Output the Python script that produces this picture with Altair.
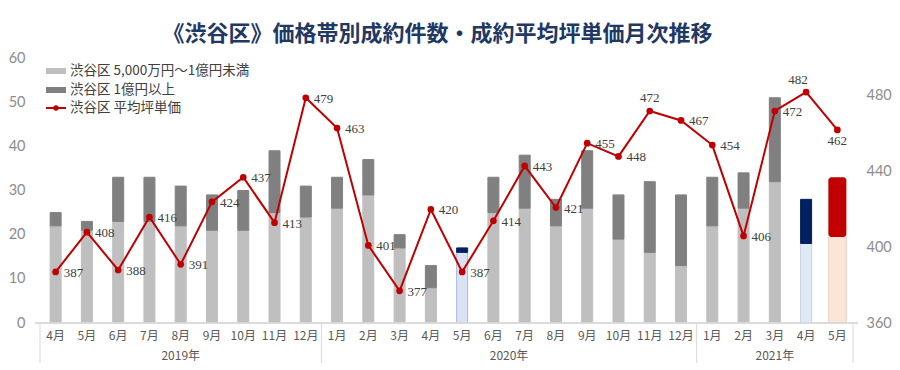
import altair as alt
import pandas as pd

# ---------------- data ----------------
month_labels = ["4月", "5月", "6月", "7月", "8月", "9月", "10月", "11月", "12月",
                "1月", "2月", "3月", "4月", "5月", "6月", "7月", "8月", "9月", "10月", "11月", "12月",
                "1月", "2月", "3月", "4月", "5月"]
year_of_month = [2019] * 9 + [2020] * 12 + [2021] * 5
year_labels = ["2019年", "2020年", "2021年"]
count_mid = [22, 21, 23, 23, 22, 21, 21, 25, 24,
             26, 29, 17, 8, 16, 25, 26, 22, 26, 19, 16, 13,
             22, 26, 32, 18, 19.5]
count_high = [3, 2, 10, 10, 9, 8, 9, 14, 7,
              7, 8, 3, 5, 1, 8, 12, 6, 13, 10, 16, 16,
              11, 8, 19, 10, 13.5]
avg_price = [387, 408, 388, 416, 391, 424, 437, 413, 479,
             463, 401, 377, 420, 387, 414, 443, 421, 455, 448, 472, 467,
             454, 406, 472, 482, 462]
series_names = ["渋谷区 5,000万円～1億円未満", "渋谷区 1億円以上", "渋谷区 平均坪単価"]

# ---------------- styles ----------------
W, H = 823, 265
C_MID, C_HIGH, C_RED = "#BFBFBF", "#808080", "#C00000"
TXT = "#404040"
AX = "#8C8C8C"
JP = "Noto Sans CJK JP"
# highlighted bars: index -> (bottom fill, top fill, bottom stroke, width)
special = {13: ("#DAE3F3", "#002060", "#A9B9D6", 11),
           24: ("#DEEBF7", "#002060", "#C9D6E8", 11),
           25: ("#FBE5D6", "#C00000", "#E8D3C6", 18)}
label_pos = {19: "above", 24: "above_left", 25: "below"}

n = len(month_labels)
rows = []
for i in range(n):
    lo, hi = count_mid[i], count_mid[i] + count_high[i]
    fb, ft, sb, w = special.get(i, (C_MID, C_HIGH, C_MID, 11))
    rows.append(dict(idx=i, y0=0, y1=lo, fill=fb, stroke=sb, w=w, seg="mid", rnd=False))
    rows.append(dict(idx=i, y0=lo, y1=hi, fill=ft, stroke=ft, w=w, seg="high", rnd=(i == 25)))
bars_df = pd.DataFrame(rows)

price_df = pd.DataFrame({"idx": list(range(n)), "price": avg_price,
                         "pos": [label_pos.get(i, "right") for i in range(n)]})
month_df = pd.DataFrame({"idx": list(range(n)), "m": month_labels})
yc = []
for y in sorted(set(year_of_month)):
    ids = [i for i, v in enumerate(year_of_month) if v == y]
    yc.append(dict(idx=(ids[0] + ids[-1]) / 2, label=f"{y}年"))
year_df = pd.DataFrame(yc)
bounds = [-0.5] + [i + 0.5 for i in range(n - 1) if year_of_month[i] != year_of_month[i + 1]] + [n - 0.5]
bound_df = pd.DataFrame({"idx": bounds})

xs = alt.Scale(domain=[-0.5, n - 0.5], nice=False, zero=False)
X = alt.X("idx:Q", scale=xs, axis=None)
ys_left = alt.Scale(domain=[0, 60], nice=False, zero=True)
ys_right = alt.Scale(domain=[360, 500], nice=False, zero=False)

# ---------------- bars ----------------
bar_base = alt.Chart(bars_df)
bars = bar_base.transform_filter("!datum.rnd").mark_bar(strokeWidth=1).encode(
    x=X,
    y=alt.Y("y0:Q", scale=ys_left,
            axis=alt.Axis(values=list(range(0, 61, 10)), title=None, grid=False, domain=False,
                          ticks=False, labelPadding=10, labelFont="Lato", labelFontSize=14.5,
                          labelColor=AX)),
    y2="y1:Q",
    size=alt.Size("w:Q", scale=None),
    color=alt.Color("fill:N", scale=None),
    stroke=alt.Stroke("stroke:N", scale=None),
)
bars_round = bar_base.transform_filter("datum.rnd").mark_bar(cornerRadius=3).encode(
    x=X, y=alt.Y("y0:Q", scale=ys_left), y2="y1:Q",
    size=alt.Size("w:Q", scale=None),
    color=alt.Color("fill:N", scale=None),
)
left = alt.layer(bars, bars_round)

# ---------------- price line ----------------
pb = alt.Chart(price_df)
line = pb.mark_line(color=C_RED, strokeWidth=2).encode(
    x=X,
    y=alt.Y("price:Q", scale=ys_right,
            axis=alt.Axis(orient="right", values=list(range(360, 501, 20)), title=None, grid=False,
                          domain=False, ticks=False, labelPadding=8, labelFont="Lato",
                          labelFontSize=14.5, labelColor=AX)),
)
pts = pb.mark_point(filled=True, color=C_RED, size=45, opacity=1).encode(
    x=X, y=alt.Y("price:Q", scale=ys_right))
lab_kw = dict(font="Liberation Serif", fontSize=13, color=TXT)
lab_r = pb.transform_filter("datum.pos == 'right'").mark_text(
    align="left", baseline="middle", dx=8, dy=1, **lab_kw).encode(
    x=X, y=alt.Y("price:Q", scale=ys_right), text="price:Q")
lab_a = pb.transform_filter("datum.pos == 'above'").mark_text(
    align="center", baseline="bottom", dy=-6, **lab_kw).encode(
    x=X, y=alt.Y("price:Q", scale=ys_right), text="price:Q")
lab_al = pb.transform_filter("datum.pos == 'above_left'").mark_text(
    align="center", baseline="bottom", dx=-8, dy=-5, **lab_kw).encode(
    x=X, y=alt.Y("price:Q", scale=ys_right), text="price:Q")
lab_b = pb.transform_filter("datum.pos == 'below'").mark_text(
    align="center", baseline="top", dy=5, **lab_kw).encode(
    x=X, y=alt.Y("price:Q", scale=ys_right), text="price:Q")
right = alt.layer(line, pts, lab_r, lab_a, lab_al, lab_b)

# ---------------- category axis (two levels) ----------------
axis_line = alt.Chart(bound_df).mark_rule(color="#D9D9D9", strokeWidth=1).encode(
    x=alt.value(0), x2=alt.value(W), y=alt.value(H))
sep = alt.Chart(bound_df).mark_rule(color="#D9D9D9", strokeWidth=1).encode(
    x=X, y=alt.value(H), y2=alt.value(H + 40))
mlab = alt.Chart(month_df).mark_text(font=JP, fontSize=12, color="#595959", baseline="middle").encode(
    x=X, y=alt.value(H + 13), text="m:N")
ylab = alt.Chart(year_df).mark_text(font=JP, fontSize=12, color="#595959", baseline="middle").encode(
    x=X, y=alt.value(H + 33), text="label:N")

# ---------------- legend ----------------
leg_layers = []
leg_y = [13, 32, 50]
leg_df = pd.DataFrame({"label": series_names})
for k, (name, yy) in enumerate(zip(series_names, leg_y)):
    d = alt.Chart(leg_df.iloc[[k]])
    if k < 2:
        leg_layers.append(d.mark_rule(color=[C_MID, C_HIGH][k], strokeWidth=6).encode(
            x=alt.value(11), x2=alt.value(31), y=alt.value(yy)))
    else:
        leg_layers.append(d.mark_rule(color=C_RED, strokeWidth=2).encode(
            x=alt.value(11), x2=alt.value(31), y=alt.value(yy)))
        leg_layers.append(d.mark_point(filled=True, color=C_RED, size=30, opacity=1).encode(
            x=alt.value(21), y=alt.value(yy)))
    leg_layers.append(d.mark_text(font=JP, fontSize=13.5, color=TXT, align="left",
                                  baseline="middle").encode(
        x=alt.value(35), y=alt.value(yy), text="label:N"))

chart = alt.layer(left, right, axis_line, sep, mlab, ylab, *leg_layers).resolve_scale(
    y="independent"
).properties(
    width=W, height=H,
    padding={"left": 0, "top": 15, "right": 0, "bottom": 0},
    title=alt.TitleParams("《渋谷区》価格帯別成約件数・成約平均坪単価月次推移",
                          font=JP, fontSize=22, fontWeight="bold", color="#1F3864",
                          anchor="middle", frame="group", offset=4, dx=-9),
).configure_view(stroke=None)

chart.save("out.html", embed_options={"renderer": "svg", "actions": False})
